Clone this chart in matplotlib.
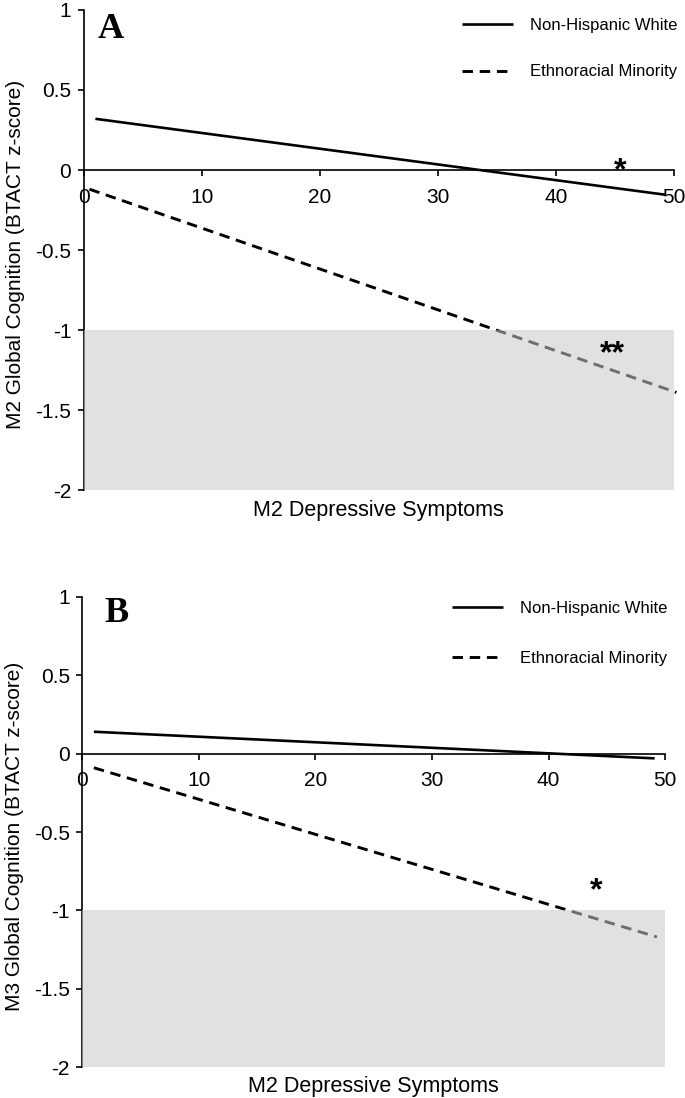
import numpy as np
import matplotlib.pyplot as plt
from matplotlib.patches import Rectangle

# fitted simple slopes (start / end points)
a_white_x = [1, 49.3]
a_white = [0.32, -0.155]
a_minority_x = [0.5, 50.2]
a_minority = [-0.12, -1.39]

b_white_x = [1, 49.1]
b_white = [0.14, -0.03]
b_minority_x = [1, 49.3]
b_minority = [-0.09, -1.17]

xticks = [0, 10, 20, 30, 40, 50]
yticks = [-2, -1.5, -1, -0.5, 0, 0.5, 1]
ytick_labels = ["-2", "-1.5", "-1", "-0.5", "0", "0.5", "1"]

plain = ['Liberation Sans', 'DejaVu Sans']
serif = ['Liberation Serif', 'DejaVu Serif']


def panel(ax, letter, letter_pos, wx, wy, mx, my, ylabel, stars, leg_anchor, leg_space):
	ax.set_xlim(0, 50)
	ax.set_ylim(-2, 1)

	l1, = ax.plot(wx, wy, color='black', lw=1.9, clip_on=False, solid_capstyle='butt')
	l2, = ax.plot(mx, my, color='black', lw=2.1, ls=(0, (3.6, 2.3)), clip_on=False)

	# shaded "impaired" region drawn on top so the dashed line turns grey inside it
	ax.add_patch(Rectangle((0, -2), 50, 1, facecolor='#c9c9c9', alpha=0.55,
		edgecolor='none', zorder=5, clip_on=False))

	for sx, sy, txt in stars:
		ax.text(sx, sy, txt, fontsize=23, ha='center', va='center', zorder=6,
			family=plain, fontweight='bold')

	ax.text(letter_pos[0], letter_pos[1], letter, transform=ax.transAxes, fontsize=26,
		fontweight='bold', family=serif, va='center', ha='left')

	ax.legend([l1, l2], ["Non-Hispanic White", "Ethnoracial Minority"],
		loc='upper left', bbox_to_anchor=leg_anchor, frameon=False,
		handlelength=3.1, handletextpad=1.0, labelspacing=leg_space,
		prop={'family': plain, 'size': 12})

	ax.spines['top'].set_visible(False)
	ax.spines['right'].set_visible(False)
	ax.spines['bottom'].set_position(('data', 0))
	ax.spines['left'].set_linewidth(1.2)
	ax.spines['bottom'].set_linewidth(1.2)

	ax.set_xticks(xticks)
	ax.set_yticks(yticks)
	ax.set_yticklabels(ytick_labels)
	ax.tick_params(axis='both', direction='out', length=4.3, width=1.2, labelsize=15)
	ax.tick_params(axis='x', pad=8.5)
	ax.tick_params(axis='y', pad=4.5)
	for t in ax.get_xticklabels() + ax.get_yticklabels():
		t.set_family(plain)

	ax.set_ylabel(ylabel, fontsize=15, family=plain)
	ax.yaxis.set_label_coords(-0.100, 0.49)
	ax.text(0.5, -0.02, "M2 Depressive Symptoms", transform=ax.transAxes,
		ha='center', va='top', fontsize=15.5, family=plain)


fig = plt.figure(figsize=(6.85, 10.98), dpi=100)
ax1 = fig.add_axes([0.122, 0.5537, 0.862, 0.4372])
ax2 = fig.add_axes([0.120, 0.0282, 0.851, 0.4281])

panel(ax1, "A", (0.023, 0.96), a_white_x, a_white, a_minority_x, a_minority,
	"M2 Global Cognition (BTACT z-score)",
	[(45.4, -0.006, "*"), (44.8, -1.15, "**")], (0.615, 1.015), 1.9)
panel(ax2, "B", (0.038, 0.965), b_white_x, b_white, b_minority_x, b_minority,
	"M3 Global Cognition (BTACT z-score)",
	[(44.1, -0.875, "*")], (0.608, 1.023), 2.1)

fig.savefig("out.png", dpi=100)
